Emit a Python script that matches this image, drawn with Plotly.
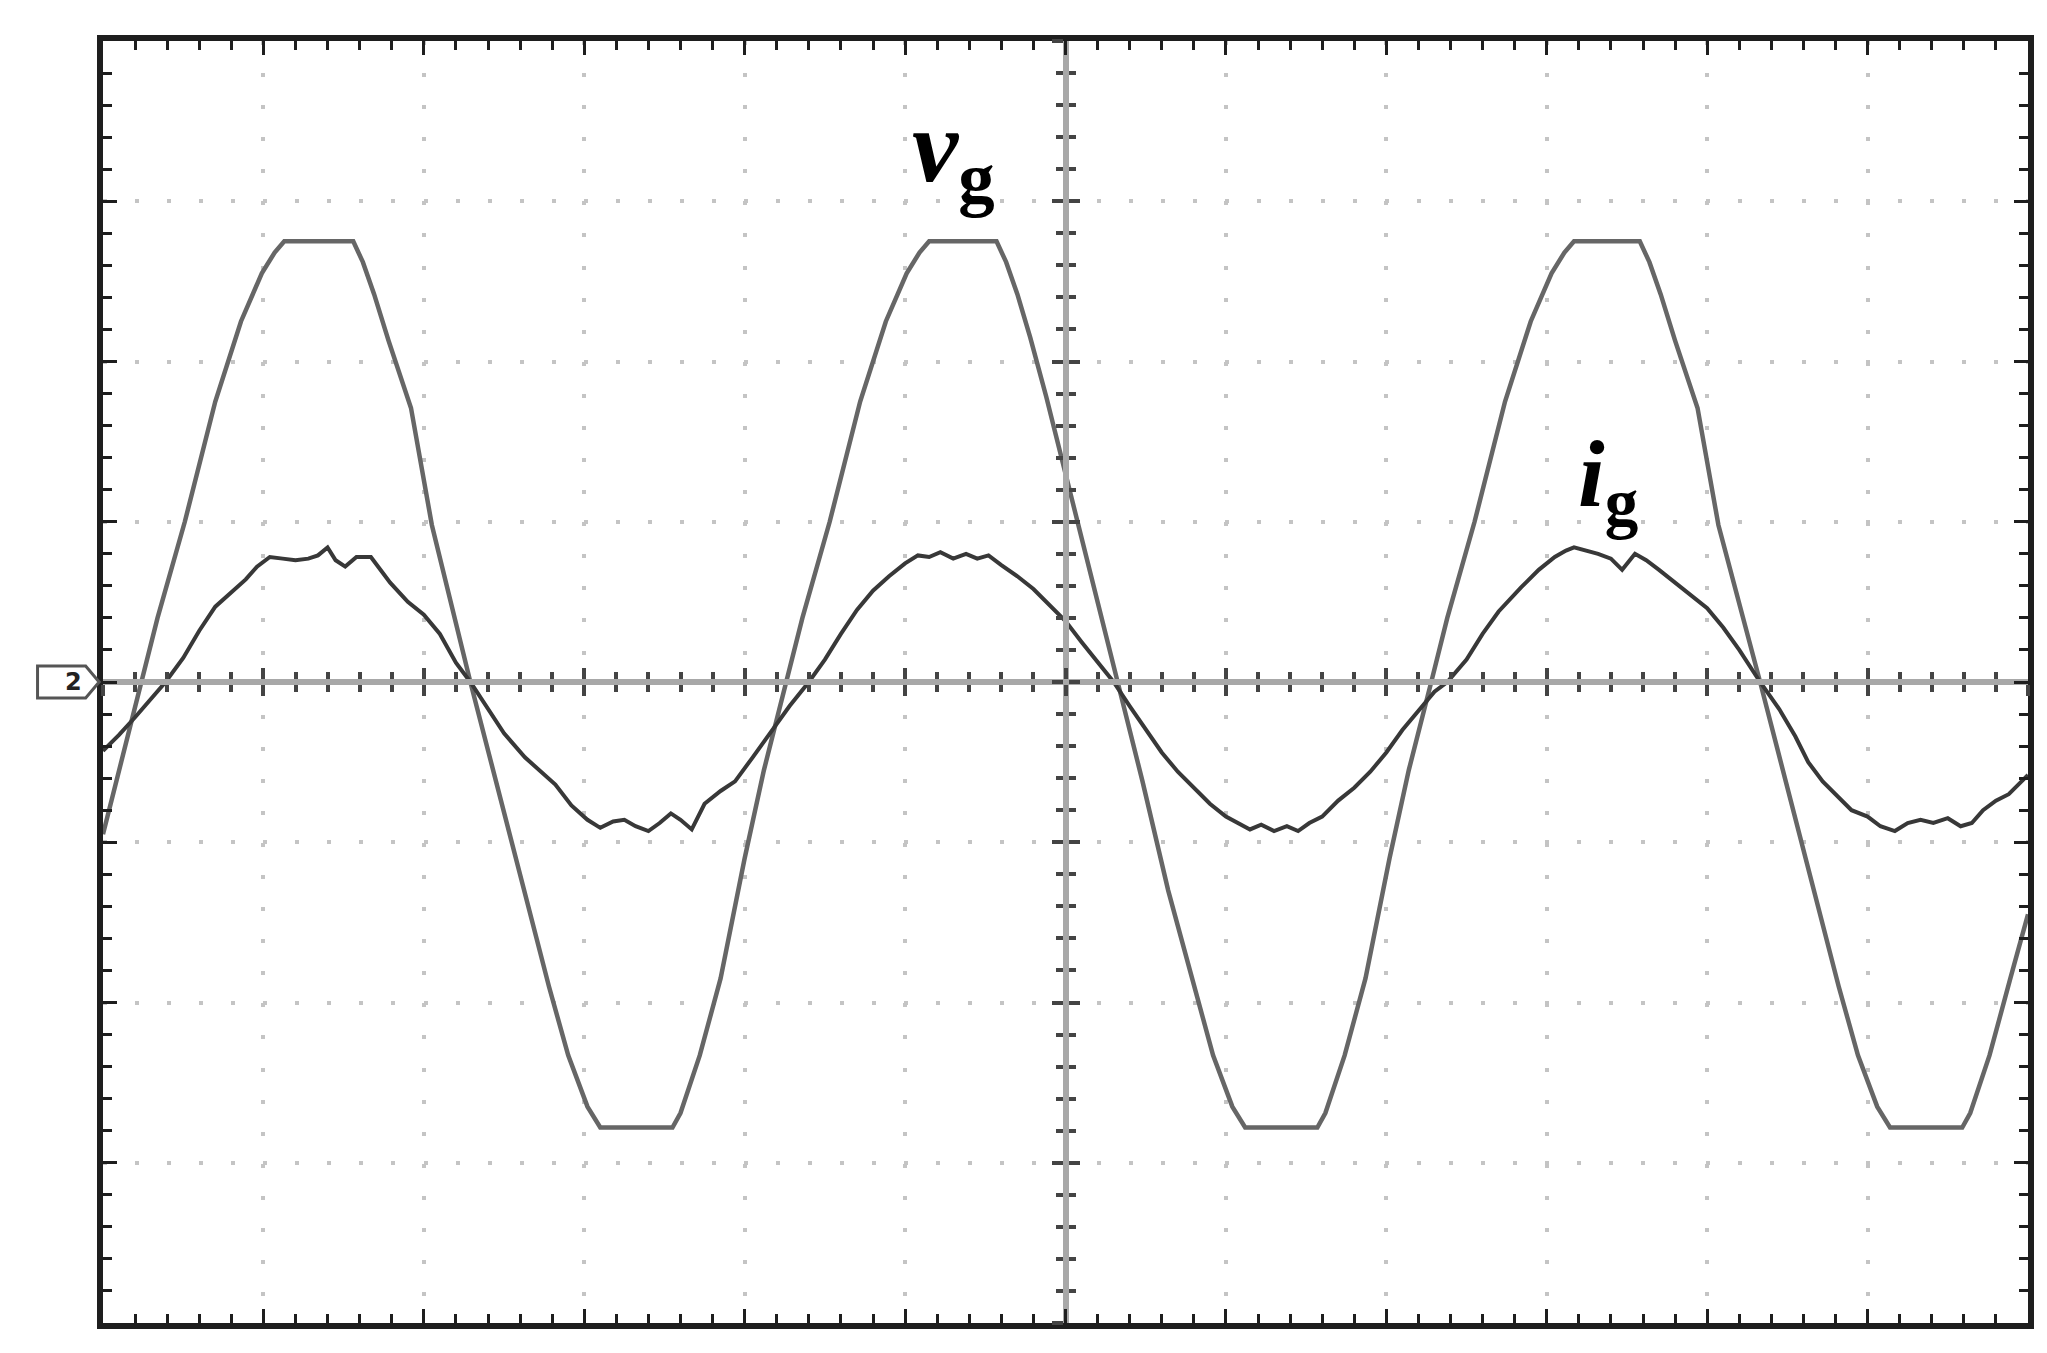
import plotly.graph_objects as go

# time axis in screen divisions (12 across), amplitude in divisions (8 high)
vg_t = [0.0, 0.24, 0.34, 0.51, 0.70, 0.86, 0.99, 1.07, 1.13, 1.56, 1.62, 1.69, 1.78, 1.92, 2.05, 2.29,
        2.45, 2.62, 2.78, 2.90, 3.02, 3.10, 3.55, 3.60, 3.72, 3.85, 4.00, 4.12, 4.26,
        4.36, 4.53, 4.72, 4.88, 5.01, 5.09, 5.15, 5.57, 5.63, 5.70, 5.78, 5.88, 6.00, 6.07, 6.32,
        6.48, 6.64, 6.80, 6.92, 7.04, 7.12, 7.57, 7.62, 7.74, 7.87, 8.02, 8.14, 8.28,
        8.38, 8.55, 8.74, 8.90, 9.03, 9.11, 9.17, 9.58, 9.64, 9.71, 9.80, 9.94, 10.07, 10.33,
        10.49, 10.66, 10.82, 10.94, 11.06, 11.14, 11.59, 11.64, 11.76, 11.89, 12.0]
vg_v = [-0.95, 0.0, 0.40, 1.00, 1.75, 2.25, 2.55, 2.68, 2.75, 2.75, 2.62, 2.42, 2.13, 1.71, 0.98, 0.0,
        -0.62, -1.30, -1.90, -2.33, -2.65, -2.78, -2.78, -2.69, -2.33, -1.85, -1.10, -0.55, 0.0,
        0.40, 1.00, 1.75, 2.25, 2.55, 2.68, 2.75, 2.75, 2.62, 2.42, 2.15, 1.78, 1.30, 1.00, 0.0,
        -0.62, -1.30, -1.90, -2.33, -2.65, -2.78, -2.78, -2.69, -2.33, -1.85, -1.10, -0.55, 0.0,
        0.40, 1.00, 1.75, 2.25, 2.55, 2.68, 2.75, 2.75, 2.62, 2.42, 2.13, 1.71, 0.98, 0.0,
        -0.62, -1.30, -1.90, -2.33, -2.65, -2.78, -2.78, -2.69, -2.33, -1.85, -1.45]

ig_t = [0.0, 0.10, 0.20, 0.30, 0.39, 0.50, 0.60, 0.70, 0.80, 0.89, 0.96, 1.04, 1.12, 1.20, 1.28, 1.34,
        1.40, 1.45, 1.51, 1.58, 1.67, 1.79, 1.90, 2.00, 2.10, 2.20, 2.29,
        2.40, 2.50, 2.63, 2.72, 2.82, 2.92, 3.02, 3.10, 3.18, 3.25, 3.32, 3.40, 3.47, 3.54, 3.60,
        3.67, 3.75, 3.85, 3.94, 4.05, 4.17, 4.28, 4.40,
        4.50, 4.60, 4.70, 4.80, 4.90, 5.00, 5.08, 5.15, 5.22, 5.30, 5.38, 5.45, 5.52, 5.60, 5.70,
        5.80, 5.90, 6.00, 6.10, 6.20, 6.30,
        6.40, 6.50, 6.60, 6.70, 6.80, 6.90, 7.00, 7.08, 7.15, 7.22, 7.30, 7.38, 7.45, 7.52, 7.60,
        7.70, 7.80, 7.90, 8.00, 8.10, 8.20, 8.30, 8.38,
        8.50, 8.60, 8.70, 8.84, 8.95, 9.05, 9.12, 9.17, 9.25, 9.32, 9.40, 9.47, 9.55, 9.62, 9.70,
        9.80, 9.92, 10.00, 10.10, 10.20, 10.33,
        10.45, 10.55, 10.63, 10.72, 10.82, 10.90, 11.00, 11.08, 11.17, 11.25, 11.33, 11.41, 11.50,
        11.58, 11.65, 11.72, 11.80, 11.88, 11.96, 12.0]
ig_v = [-0.43, -0.33, -0.22, -0.10, 0.0, 0.15, 0.32, 0.47, 0.56, 0.64, 0.72, 0.78, 0.77, 0.76, 0.77, 0.79,
        0.84, 0.76, 0.72, 0.78, 0.78, 0.62, 0.50, 0.42, 0.30, 0.12, 0.0,
        -0.17, -0.32, -0.47, -0.55, -0.64, -0.77, -0.86, -0.91, -0.87, -0.86, -0.90, -0.93, -0.88, -0.82, -0.86,
        -0.92, -0.76, -0.68, -0.62, -0.47, -0.30, -0.15, 0.0,
        0.14, 0.30, 0.45, 0.57, 0.66, 0.74, 0.79, 0.78, 0.81, 0.77, 0.80, 0.77, 0.79, 0.73, 0.66,
        0.58, 0.48, 0.38, 0.25, 0.12, 0.0,
        -0.15, -0.30, -0.44, -0.56, -0.66, -0.76, -0.84, -0.88, -0.92, -0.89, -0.93, -0.90, -0.93, -0.88, -0.84,
        -0.74, -0.66, -0.56, -0.44, -0.30, -0.18, -0.06, 0.0,
        0.14, 0.30, 0.44, 0.59, 0.70, 0.78, 0.82, 0.84, 0.82, 0.80, 0.77, 0.70, 0.80, 0.76, 0.70,
        0.62, 0.53, 0.46, 0.34, 0.20, 0.0,
        -0.17, -0.34, -0.50, -0.62, -0.72, -0.80, -0.84, -0.90, -0.93, -0.88, -0.86, -0.88, -0.85,
        -0.90, -0.88, -0.80, -0.74, -0.70, -0.62, -0.58]

GRID = "#c4c4c4"
FRAME = "#1e1e1e"
SERIF = "Liberation Serif, Times New Roman, Times, serif"

fig = go.Figure()
fig.add_trace(go.Scatter(x=vg_t, y=vg_v, mode="lines", name="vg",
                         line=dict(color="#666666", width=4.5)))
fig.add_trace(go.Scatter(x=ig_t, y=ig_v, mode="lines", name="ig",
                         line=dict(color="#383838", width=4)))
# empty traces so the centre axes get drawn
fig.add_trace(go.Scatter(x=[], y=[], xaxis="x2", yaxis="y2", showlegend=False))
fig.add_trace(go.Scatter(x=[], y=[], xaxis="x3", yaxis="y3", showlegend=False))

frame = dict(showline=True, linecolor=FRAME, linewidth=6, mirror="allticks",
             ticks="inside", ticklen=14, tickwidth=3, tickcolor=FRAME,
             showticklabels=False, zeroline=False,
             showgrid=True, gridcolor=GRID, gridwidth=4, fixedrange=True,
             minor=dict(dtick=0.2, ticks="inside", ticklen=9, tickwidth=3,
                        tickcolor=FRAME, showgrid=False))

centre = dict(showline=True, linecolor="#a8a8a8", linewidth=6, showticklabels=False,
              showgrid=False, zeroline=False, anchor="free", position=0.5,
              tickwidth=4, tickcolor="#444444", ticklen=11,
              minor=dict(dtick=0.2, ticklen=7, tickwidth=4, tickcolor="#444444"))

fig.update_layout(
    width=2047, height=1353,
    margin=dict(l=95, r=27, t=33, b=38),
    paper_bgcolor="white", plot_bgcolor="white",
    showlegend=False,
    xaxis=dict(range=[0, 12], dtick=1, griddash="4px,28.08px", **frame),
    yaxis=dict(range=[-4, 4], dtick=1, griddash="4px,28.05px", **frame),
    xaxis2=dict(range=[0, 12], dtick=1, overlaying="x", ticks="outside",
                **dict(centre, minor=dict(centre["minor"], ticks="outside"))),
    yaxis2=dict(range=[-4, 4], dtick=1, overlaying="y", ticks="outside",
                **dict(centre, minor=dict(centre["minor"], ticks="outside"))),
    xaxis3=dict(range=[0, 12], dtick=1, overlaying="x", ticks="inside",
                **dict(centre, minor=dict(centre["minor"], ticks="inside"))),
    yaxis3=dict(range=[-4, 4], dtick=1, overlaying="y", ticks="inside",
                **dict(centre, minor=dict(centre["minor"], ticks="inside"))),
    font=dict(family=SERIF, color="black"),
)

fig.add_annotation(x=5.30, y=3.30, xref="x", yref="y", showarrow=False,
                   text="<b><i>v</i></b><sub><b>g</b></sub>",
                   font=dict(family=SERIF, size=104, color="black"))
fig.add_annotation(x=9.38, y=1.26, xref="x", yref="y", showarrow=False,
                   text="<b><i>i</i></b><sub><b>g</b></sub>",
                   font=dict(family=SERIF, size=96, color="black"))

# channel ground marker at the left of the screen
fig.add_shape(type="path", xref="paper", yref="y",
              path="M -0.034 0.1 L -0.009 0.1 L -0.002 0 L -0.009 -0.1 L -0.034 -0.1 Z",
              line=dict(color="#555", width=3), fillcolor="white")
fig.add_annotation(x=-0.021, y=0, xref="paper", yref="y", showarrow=False,
                   text="<b>2</b>", font=dict(family="DejaVu Sans", size=24, color="#222"))

fig.write_html("out.html")
